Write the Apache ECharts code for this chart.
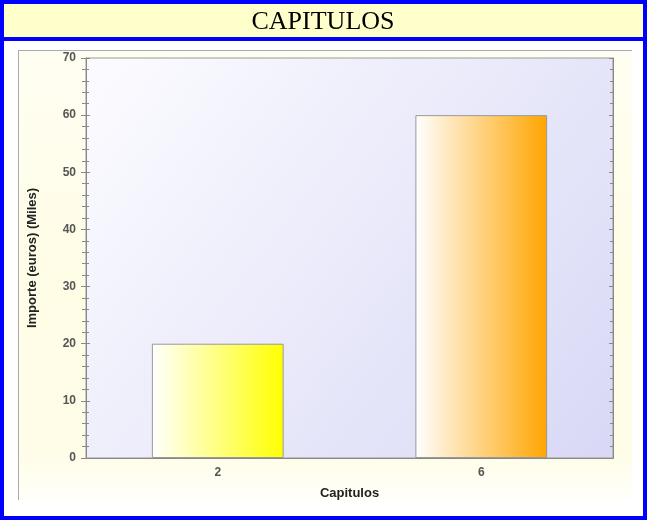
<!DOCTYPE html>
<html><head><meta charset="utf-8">
<script src="https://cdn.jsdelivr.net/npm/echarts@6/dist/echarts.min.js"></script>
<style>html,body{margin:0;padding:0;background:#fff}#c{width:647px;height:520px}</style>
</head><body><div id="c"></div>
<script>
var categories = ['2', '6'];
var values = [20, 60];
var barColors = ['#FFFF00', '#FFA500'];
var yMin = 0, yMax = 70, yInterval = 10;
var titleText = 'CAPITULOS';
var xName = 'Capitulos';
var yName = 'Importe (euros) (Miles)';

var G = echarts.graphic;
function hgrad(c){ return new G.LinearGradient(0,0,1,0,[{offset:0,color:'#FFFFFF'},{offset:1,color:c}]); }

var chart = echarts.init(document.getElementById('c'), null, {renderer:'canvas'});
var labelStyle = {color:'#555', fontFamily:'Liberation Sans, Arial, sans-serif', fontWeight:'bold', fontSize:12};
var nameStyle = {color:'#222', fontFamily:'Liberation Sans, Arial, sans-serif', fontWeight:'bold', fontSize:13};
chart.setOption({
  animation:false,
  backgroundColor:'#FFFFFF',
  graphic:[
    {type:'rect', z:-10, shape:{x:18,y:50,width:614,height:450}, style:{fill:new G.LinearGradient(0,0,0,1,[{offset:0,color:'#FFFEF2'},{offset:0.5,color:'#FFFDE6'},{offset:0.9,color:'#FFFDE8'},{offset:1,color:'#FFFFFA'}])}, silent:true},
    {type:'line', z:-9, shape:{x1:18,y1:50.5,x2:632,y2:50.5}, style:{stroke:'#AAAAAA',lineWidth:1}},
    {type:'line', z:-9, shape:{x1:18.5,y1:50,x2:18.5,y2:500}, style:{stroke:'#AAAAAA',lineWidth:1}},
    {type:'rect', z:10, shape:{x:2,y:2,width:643,height:516}, style:{fill:'none',stroke:'#0000FF',lineWidth:4}},
    {type:'rect', z:9, shape:{x:4,y:4,width:639,height:33}, style:{fill:'#FFFFCC'}},
    {type:'rect', z:10, shape:{x:0,y:37,width:647,height:4}, style:{fill:'#0000FF'}},
    {type:'text', z:11, x:323, y:22, style:{text:titleText, fill:'#000', font:'26px "Liberation Serif", "Times New Roman", serif', align:'center', verticalAlign:'middle'}}
  ],
  grid:{left:86, right:34, top:58, bottom:62, show:true, borderColor:'#999', borderWidth:1,
    backgroundColor:new G.LinearGradient(0,0,1,1,[{offset:0,color:'#FCFCFF'},{offset:1,color:'#D8D8F6'}])},
  xAxis:[
    {type:'category', data:categories, position:'bottom',
     axisLine:{lineStyle:{color:'#888'}}, axisTick:{alignWithLabel:true, inside:true, length:5, lineStyle:{color:'#888'}},
     axisLabel:Object.assign({margin:9}, labelStyle),
     name:xName, nameLocation:'middle', nameGap:29, nameTextStyle:nameStyle},
    {type:'category', data:categories, position:'top',
     axisLine:{show:true, lineStyle:{color:'#888'}}, axisTick:{alignWithLabel:true, inside:true, length:4, lineStyle:{color:'#888'}},
     axisLabel:{show:false}}
  ],
  yAxis:[
    {type:'value', min:yMin, max:yMax, interval:yInterval, position:'left',
     axisLine:{show:true, lineStyle:{color:'#888'}}, axisTick:{show:true, length:5, lineStyle:{color:'#888'}},
     minorTick:{show:true, splitNumber:5, length:4, lineStyle:{color:'#888'}},
     splitLine:{show:false},
     axisLabel:Object.assign({margin:10}, labelStyle),
     name:yName, nameLocation:'middle', nameGap:47, nameTextStyle:nameStyle},
    {type:'value', min:yMin, max:yMax, interval:yInterval, position:'left',
     axisLine:{show:false}, axisTick:{show:true, inside:true, length:4, lineStyle:{color:'#888'}},
     minorTick:{show:true, splitNumber:5, length:3, lineStyle:{color:'#888'}},
     splitLine:{show:false}, axisLabel:{show:false}},
    {type:'value', min:yMin, max:yMax, interval:yInterval, position:'right',
     axisLine:{show:true, lineStyle:{color:'#888'}}, axisTick:{show:true, inside:true, length:4, lineStyle:{color:'#888'}},
     minorTick:{show:true, splitNumber:5, length:3, lineStyle:{color:'#888'}},
     splitLine:{show:false}, axisLabel:{show:false}}
  ],
  series:[{
    type:'bar', barWidth:'50%',
    data:values.map(function(v,i){ return {value:v, itemStyle:{color:hgrad(barColors[i]), borderColor:'#999', borderWidth:1}}; })
  }]
});
</script></body></html>
